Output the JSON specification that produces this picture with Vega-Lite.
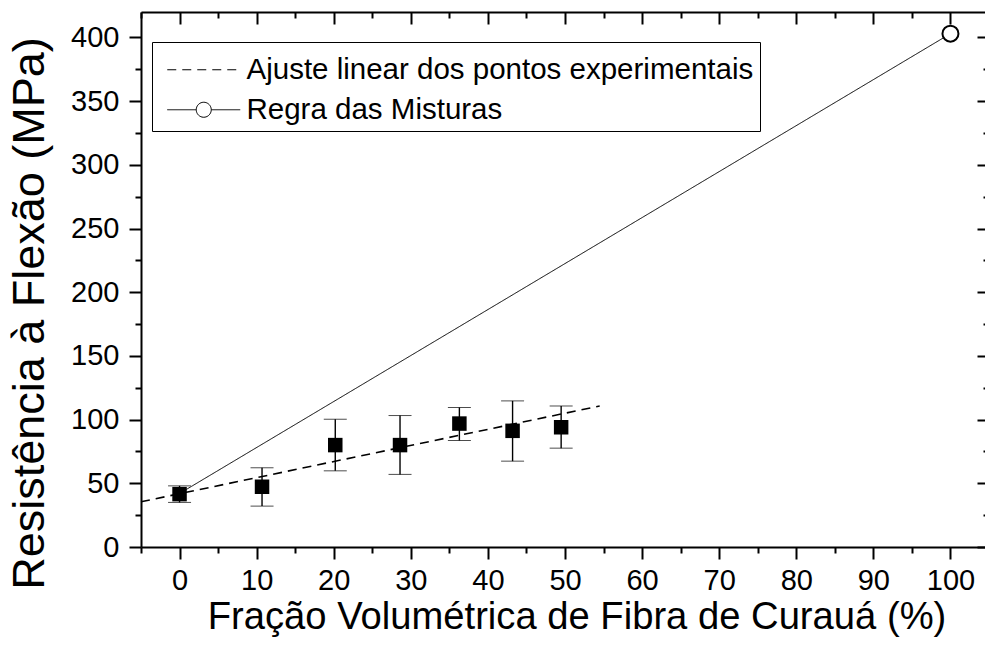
{
  "$schema": "https://vega.github.io/schema/vega-lite/v6.json",
  "width": 848,
  "height": 535,
  "autosize": {"type": "none"},
  "padding": {"left": 141, "top": 12, "right": -4, "bottom": 101},
  "background": "white",
  "config": {
    "view": {"stroke": null},
    "font": "Liberation Sans",
    "axis": {"grid": false, "labelFont": "Liberation Sans", "titleFont": "Liberation Sans", "labelColor": "black", "titleColor": "black", "titleFontWeight": "normal", "domainColor": "black", "tickColor": "black", "domainWidth": 2, "tickWidth": 2, "labelOverlap": false, "labelFlush": false, "labelBound": false}
  },
  "datasets": {
    "pontos": [
      {"x": 0, "y": 41.5, "lo": 35, "hi": 48},
      {"x": 10.7, "y": 47.3, "lo": 32.1, "hi": 62.2},
      {"x": 20.2, "y": 80, "lo": 59.8, "hi": 100.3},
      {"x": 28.6, "y": 80, "lo": 57, "hi": 103.2},
      {"x": 36.3, "y": 96.9, "lo": 83.6, "hi": 109.5},
      {"x": 43.2, "y": 91.2, "lo": 67.4, "hi": 114.7},
      {"x": 49.5, "y": 94, "lo": 77.6, "hi": 110.7}
    ],
    "ajuste": [
      {"x": -5, "y": 35.5, "serie": "Ajuste linear dos pontos experimentais"},
      {"x": 54.5, "y": 110.7, "serie": "Ajuste linear dos pontos experimentais"}
    ],
    "regra": [
      {"x": 0, "y": 42, "serie": "Regra das Misturas"},
      {"x": 100, "y": 403, "serie": "Regra das Misturas"}
    ],
    "fim": [
      {"x": 100, "y": 403}
    ]
  },
  "layer": [
    {
      "encoding": {
        "x": {
          "field": "x", "type": "quantitative",
          "scale": {"domain": [-5, 105], "nice": false, "zero": false},
          "axis": {
            "orient": "bottom",
            "values": [-5, 0, 5, 10, 15, 20, 25, 30, 35, 40, 45, 50, 55, 60, 65, 70, 75, 80, 85, 90, 95, 100, 105],
            "format": "d",
            "labelExpr": "(datum.value % 10 === 0 && datum.value >= 0 && datum.value <= 100) ? datum.label : ''",
            "tickSize": {"condition": {"test": "datum.value % 10 === 0", "value": 12}, "value": 6},
            "labelFontSize": 29,
            "labelPadding": 7,
            "title": "Fração Volumétrica de Fibra de Curauá (%)",
            "titleFontSize": 38.2,
            "titleX": 435.5,
            "titleY": 81,
            "titleAlign": "center",
            "titleBaseline": "alphabetic"
          }
        },
        "y": {
          "field": "y", "type": "quantitative",
          "scale": {"domain": [0, 420], "nice": false, "zero": false},
          "axis": {
            "orient": "left",
            "values": [0, 25, 50, 75, 100, 125, 150, 175, 200, 225, 250, 275, 300, 325, 350, 375, 400],
            "format": "d",
            "labelExpr": "datum.value % 50 === 0 ? datum.label : ''",
            "tickSize": {"condition": {"test": "datum.value % 50 === 0", "value": 12}, "value": 6},
            "labelFontSize": 29,
            "labelPadding": 10,
            "title": "Resistência à Flexão (MPa)",
            "titleFontSize": 45,
            "titleAngle": 270,
            "titleX": -98,
            "titleY": 301,
            "titleAlign": "center",
            "titleBaseline": "alphabetic"
          }
        }
      },
      "layer": [
        {
          "data": {"name": "regra"},
          "mark": {"type": "line", "color": "black", "strokeWidth": 1},
          "encoding": {
            "strokeDash": {
              "field": "serie", "type": "nominal",
              "scale": {"domain": ["Ajuste linear dos pontos experimentais", "Regra das Misturas"], "range": [[9, 6], [1, 0]]},
              "legend": {
                "orient": "none",
                "legendX": 11,
                "legendY": 30,
                "direction": "vertical",
                "title": " ",
                "titleFontSize": 1,
                "titlePadding": 6,
                "strokeColor": "black",
                "padding": 6,
                "labelFont": "Liberation Sans",
                "labelFontSize": 29.5,
                "labelColor": "black",
                "labelLimit": 0,
                "symbolType": "M-2.607,0H2.607",
                "symbolSize": 784,
                "symbolStrokeWidth": 1,
                "symbolStrokeColor": "black",
                "symbolFillColor": "white",
                "symbolOffset": 31,
                "labelOffset": 28,
                "rowPadding": 9,
                "encode": {
                  "symbols": {
                    "update": {
                      "shape": {"signal": "datum.value === 'Regra das Misturas' ? 'M-2.607,0H-0.536M0.536,0H2.607M-0.536,0A0.536,0.536,0,1,0,0.536,0A0.536,0.536,0,1,0,-0.536,0Z' : 'M-2.607,0H2.607'"},
                      "stroke": {"value": "black"},
                      "fill": {"value": "white"}
                    }
                  }
                }
              }
            }
          }
        },
        {
          "data": {"name": "ajuste"},
          "mark": {"type": "line", "color": "black", "strokeWidth": 1.6},
          "encoding": {
            "strokeDash": {"field": "serie", "type": "nominal"}
          }
        },
        {
          "data": {"name": "fim"},
          "mark": {"type": "point", "shape": "circle", "filled": true, "fill": "white", "stroke": "black", "strokeWidth": 2, "size": 256, "opacity": 1}
        },
        {
          "data": {"name": "pontos"},
          "mark": {"type": "errorbar", "ticks": {"size": 23, "color": "black", "strokeWidth": 1.4}, "rule": {"color": "black", "strokeWidth": 1.4}},
          "encoding": {
            "y": {"field": "lo", "type": "quantitative"},
            "y2": {"field": "hi"}
          }
        },
        {
          "data": {"name": "pontos"},
          "mark": {"type": "point", "shape": "square", "filled": true, "color": "black", "size": 210, "opacity": 1}
        }
      ]
    },
    {
      "data": {"name": "fim"},
      "mark": {"type": "point", "opacity": 0},
      "encoding": {
        "x": {
          "field": "x", "type": "quantitative",
          "axis": {
            "orient": "top",
            "values": [-5, 0, 5, 10, 15, 20, 25, 30, 35, 40, 45, 50, 55, 60, 65, 70, 75, 80, 85, 90, 95, 100, 105],
            "labels": false,
            "title": null,
            "tickSize": {"condition": {"test": "datum.value % 10 === 0", "value": -12}, "value": -6}
          }
        },
        "y": {
          "field": "y", "type": "quantitative",
          "axis": {
            "orient": "right",
            "domain": false,
            "values": [0, 25, 50, 75, 100, 125, 150, 175, 200, 225, 250, 275, 300, 325, 350, 375, 400],
            "labels": false,
            "title": null,
            "tickSize": {"condition": {"test": "datum.value % 50 === 0", "value": -12}, "value": -6}
          }
        }
      }
    }
  ],
  "resolve": {"axis": {"x": "independent", "y": "independent"}}
}
